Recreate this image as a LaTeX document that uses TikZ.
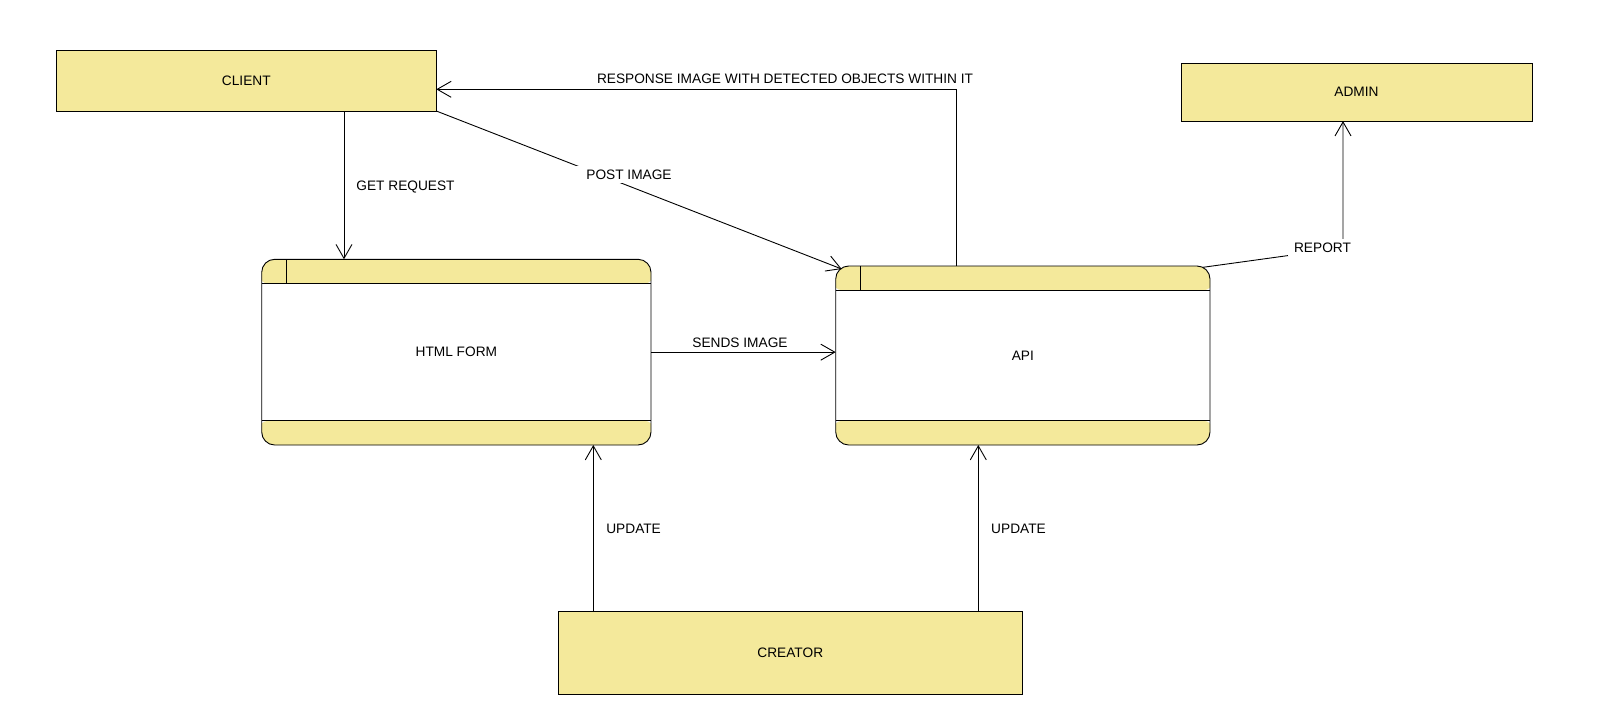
\documentclass[tikz,border=0pt]{standalone}
\usepackage{fontspec}
\setmainfont{Liberation Sans}
\usetikzlibrary{arrows.meta}
\definecolor{boxyellow}{HTML}{F4E99B}
\begin{document}
\begin{tikzpicture}[x=1pt,y=-1pt,line width=0.9pt,
  every node/.style={font=\fontsize{13.7}{16}\selectfont},
  entity/.style={draw,fill=boxyellow,inner sep=0pt,outer sep=0pt},
  procbox/.style={draw,fill=white,rounded corners=13pt,inner sep=0pt,outer sep=0pt,
    path picture={
      \fill[boxyellow] ([shift={(-5pt,5pt)}]path picture bounding box.north west)
        rectangle ([yshift=-24.5pt,xshift=5pt]path picture bounding box.north east);
      \fill[boxyellow] ([shift={(-5pt,-5pt)}]path picture bounding box.south west)
        rectangle ([yshift=24.5pt,xshift=5pt]path picture bounding box.south east);
      \draw ([yshift=-24.5pt]path picture bounding box.north west)
        -- ([yshift=-24.5pt]path picture bounding box.north east);
      \draw ([yshift=24.5pt]path picture bounding box.south west)
        -- ([yshift=24.5pt]path picture bounding box.south east);
      \draw ([xshift=24.8pt]path picture bounding box.north west)
        -- ([xshift=24.8pt,yshift=-24.5pt]path picture bounding box.north west);
    }},
  arr/.style={-{Straight Barb[length=14pt,width=16pt]}},
  lbl/.style={inner sep=0pt},
  gaplbl/.style={fill=white,inner xsep=8pt,inner ysep=4pt}]

\useasboundingbox (0,0) rectangle (1618,718);

% external entities
\node[entity,minimum width=380pt,minimum height=60.7pt] (client) at (246.3,80.65) {CLIENT};
\node[entity,minimum width=351pt,minimum height=57.7pt] (admin) at (1356.5,92.2) {ADMIN};
\node[entity,minimum width=464pt,minimum height=82.7pt] (creator) at (790.3,652.65) {CREATOR};

% processes
\node[procbox,minimum width=389.3pt,minimum height=185.7pt] (html) at (456.35,352.15) {HTML FORM};
\node[procbox,minimum width=374.3pt,minimum height=179pt] (api) at (1022.85,355.5) {API};

% routing points
\coordinate (gx) at (344,0);
\coordinate (rc) at (956.3,89.3);
\coordinate (rp) at (1343,248);
\coordinate (u1) at (593.3,0);
\coordinate (u2) at (978.3,0);

% flows
\draw[arr] (client.south -| gx) -- (html.north -| gx);
\draw[arr] (client.south east) -- ([shift={(6pt,-3pt)}]api.north west);
\draw[arr] (api.north -| rc) -- (rc) -- (client.east |- rc);
\draw[arr] ([shift={(-7pt,-1.3pt)}]api.north east) -- (rp) -- (admin.south -| rp);
\draw[arr] (html.east) -- (html.east -| api.west);
\draw[arr] (creator.north -| u1) -- (html.south -| u1);
\draw[arr] (creator.north -| u2) -- (api.south -| u2);

% flow labels
\node[lbl] (lget) at (405.5,186.8) {GET REQUEST};
\node[gaplbl,inner xsep=11pt] (lpost) at (629,174.5) {POST IMAGE};
\node[lbl] (lresp) at (785,79) {RESPONSE IMAGE WITH DETECTED OBJECTS WITHIN IT};
\node[gaplbl,inner xsep=6pt] (lrep) at (1322.5,247.5) {REPORT};
\node[lbl] (lsend) at (740,342.6) {SENDS IMAGE};
\node[lbl] (lup1) at (633.6,528.4) {UPDATE};
\node[lbl] (lup2) at (1018.5,528.4) {UPDATE};
\end{tikzpicture}
\end{document}
